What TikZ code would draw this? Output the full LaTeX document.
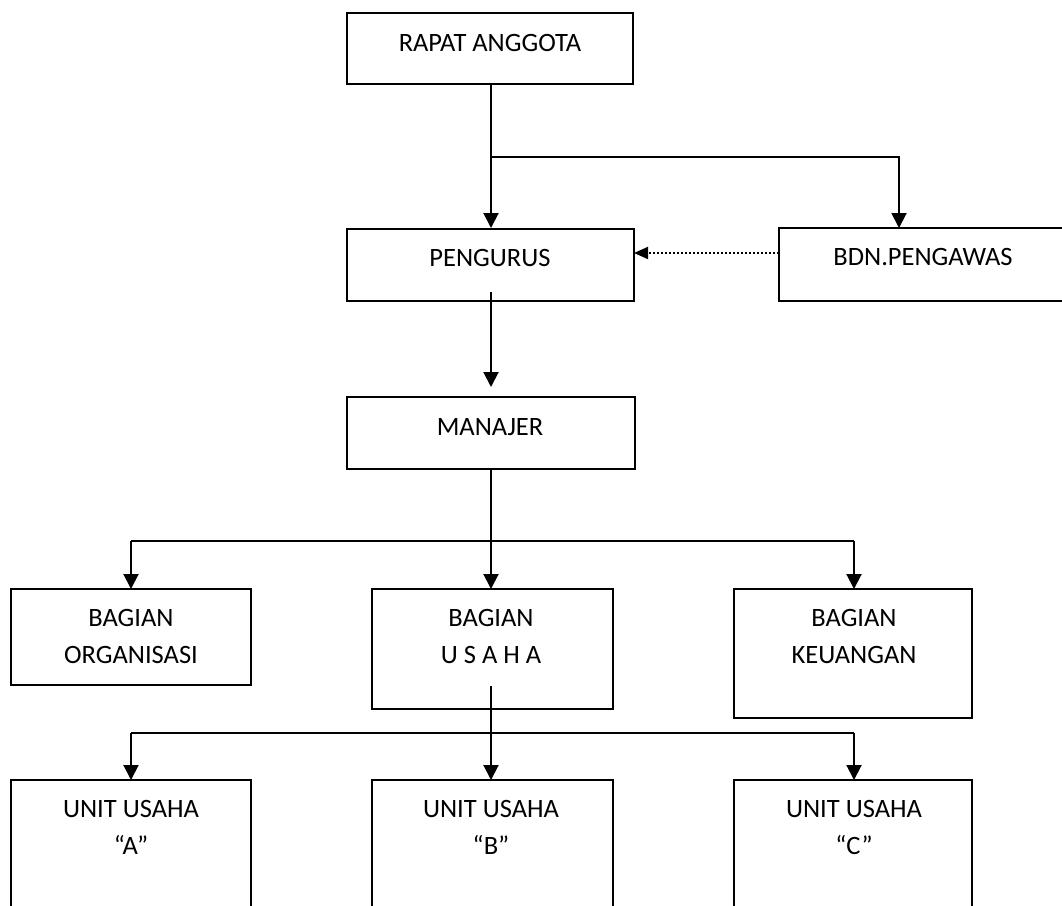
\documentclass[tikz,border=0pt]{standalone}
\usepackage{fontspec}
\setmainfont{Carlito}
\usetikzlibrary{arrows.meta}
\begin{document}
\begin{tikzpicture}[x=1pt,y=-1pt,
  box/.style={draw, line width=2pt, rectangle, inner sep=0pt, outer sep=0pt},
  lbl/.style={inner sep=0pt, align=center, font=\fontsize{26.5}{37}\selectfont},
  conn/.style={line width=2pt},
  arr/.style={line width=2pt, -{Triangle[length=15pt,width=15pt]}},
  dotarr/.style={line width=2pt, dash pattern=on 2pt off 2pt, -{Triangle[length=14pt,width=12pt]}}]
\useasboundingbox (0,0) rectangle (1062,905);
\clip (0,0) rectangle (1062,905);
% boxes
\node[box, minimum width=286pt, minimum height=71pt] (ra) at (490,48.5) {};
\node[box, minimum width=287pt, minimum height=72pt] (pg) at (490.5,264.5) {};
\node[box, minimum width=320pt, minimum height=73pt] (bdn) at (939,264.5) {};
\node[box, minimum width=288pt, minimum height=72pt] (mj) at (491,433) {};
\node[box, minimum width=240pt, minimum height=96pt] (org) at (131,637) {};
\node[box, minimum width=241pt, minimum height=120pt] (us) at (492.5,649) {};
\node[box, minimum width=238pt, minimum height=129pt] (keu) at (852.5,653.5) {};
\node[box, minimum width=240pt, minimum height=200pt] (ua) at (131,880) {};
\node[box, minimum width=241pt, minimum height=200pt] (ub) at (492.5,880) {};
\node[box, minimum width=238pt, minimum height=200pt] (uc) at (852.5,880) {};
% texts
\node[lbl] (ra-t) at (490,42.5) {RAPAT ANGGOTA};
\node[lbl] (pg-t) at (490,258) {PENGURUS};
\node[lbl] (bdn-t) at (923,257) {BDN.PENGAWAS};
\node[lbl] (mj-t) at (490,427.5) {MANAJER};
\node[lbl] (org-t) at (131,636) {BAGIAN\\ORGANISASI};
\node[lbl] (us-t) at (491,636) {BAGIAN\\U S A H A};
\node[lbl] (keu-t) at (854,636) {BAGIAN\\KEUANGAN};
\node[lbl] (ua-t) at (131,827) {UNIT USAHA\\“A”};
\node[lbl] (ub-t) at (491,827) {UNIT USAHA\\“B”};
\node[lbl] (uc-t) at (854,827) {UNIT USAHA\\“C”};
% junctions
\coordinate (raout) at (491,84);
\coordinate (j1) at (491,157);
\coordinate (pgin) at (491,228);
\coordinate (bdnin) at (899,228);
\coordinate (pgout) at (491,292);
\coordinate (mjin) at (491,387);
\coordinate (j2) at (491,541);
\coordinate (usout) at (491,686);
\coordinate (j3) at (491,733);
% connectors
\draw[arr] (raout) -- (pgin);
\draw[arr] (j1) -| (bdnin);
\draw[dotarr] ([yshift=11.5pt]bdn.west) -- ([yshift=11.5pt]pg.east);
\draw[arr] (pgout) -- (mjin);
\draw[conn] (mj.south -| j2) -- (j2);
\draw[conn] (j2 -| org-t) -- (j2 -| keu-t);
\draw[arr] (j2 -| org-t) -- (org.north -| org-t);
\draw[arr] (j2) -- (us.north -| j2);
\draw[arr] (j2 -| keu-t) -- (keu.north -| keu-t);
\draw[conn] (usout) -- (j3);
\draw[conn] (j3 -| ua-t) -- (j3 -| uc-t);
\draw[arr] (j3 -| ua-t) -- (ua.north -| ua-t);
\draw[arr] (j3) -- (ub.north -| j3);
\draw[arr] (j3 -| uc-t) -- (uc.north -| uc-t);
\end{tikzpicture}
\end{document}
